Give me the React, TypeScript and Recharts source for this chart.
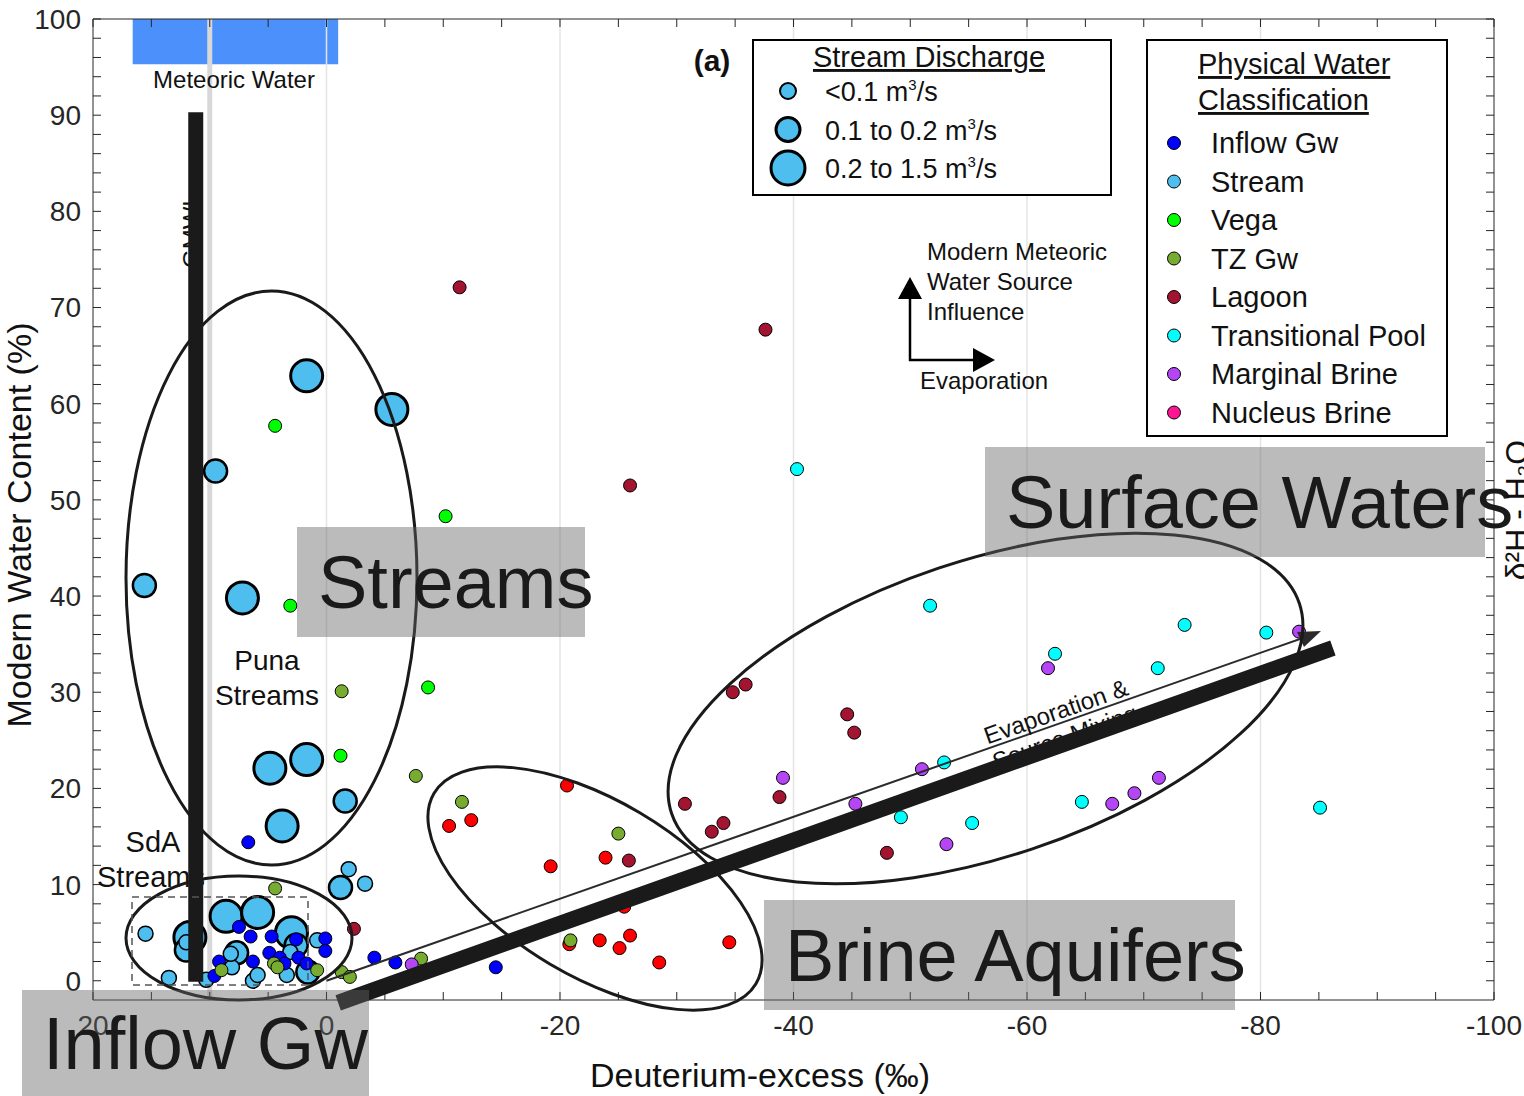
import { ScatterChart, Scatter, XAxis, YAxis, ReferenceArea, ReferenceLine } from 'recharts';

const FONT = '"Liberation Sans", Arial, Helvetica, sans-serif';
const INK = '#1a1a1a';
const AXIS = '#262626';

// deuterium-excess (‰) = d, modern water content (%) = w
const inflowGw = [
  { d: 6.7, w: 14.4 }, { d: -4.1, w: 2.4 }, { d: -5.9, w: 1.9 }, { d: -14.5, w: 1.4 },
  { d: 7.5, w: 5.6 }, { d: 6.5, w: 4.6 }, { d: 4.7, w: 4.6 }, { d: 2.6, w: 4.3 },
  { d: 0.1, w: 4.4 }, { d: 0.1, w: 3.1 }, { d: 4.9, w: 2.9 }, { d: 6.3, w: 2.0 },
  { d: 9.2, w: 2.0 }, { d: 9.6, w: 0.5 }, { d: 2.4, w: 2.4 }, { d: 1.7, w: 1.8 },
  { d: 4.0, w: 2.4 }, { d: 3.6, w: 1.8 },
];

// stream samples split by discharge class
const streamLarge = [
  { d: 1.7, w: 62.9 }, { d: -5.6, w: 59.4 }, { d: 7.2, w: 39.8 }, { d: 4.85, w: 22.1 },
  { d: 1.7, w: 23.0 }, { d: 3.8, w: 16.1 }, { d: 11.7, w: 4.5 }, { d: 8.6, w: 6.7 },
  { d: 5.9, w: 7.1 }, { d: 3.0, w: 5.0 },
];
const streamMid = [
  { d: 9.5, w: 53.0 }, { d: 15.6, w: 41.1 }, { d: -1.6, w: 18.7 }, { d: -1.2, w: 9.7 },
  { d: 12.0, w: 3.2 }, { d: 2.6, w: 3.7 }, { d: 7.7, w: 2.9 }, { d: 1.6, w: 0.9 },
];
const streamSmall = [
  { d: -1.9, w: 11.6 }, { d: -3.3, w: 10.1 }, { d: 15.5, w: 4.9 }, { d: 12.0, w: 4.0 },
  { d: 0.8, w: 4.2 }, { d: 3.1, w: 3.0 }, { d: 8.1, w: 1.4 }, { d: 6.3, w: 0.0 },
  { d: 5.9, w: 0.6 }, { d: 3.4, w: 0.6 }, { d: 10.3, w: 0.1 }, { d: 13.5, w: 0.3 },
  { d: 8.2, w: 2.8 },
];

const vega = [
  { d: 4.4, w: 57.7 }, { d: -10.2, w: 48.3 }, { d: 3.1, w: 39.0 }, { d: -8.7, w: 30.5 },
  { d: -1.2, w: 23.4 },
];

const tzGw = [
  { d: -1.3, w: 30.1 }, { d: -7.65, w: 21.3 }, { d: -11.6, w: 18.6 }, { d: -25.0, w: 15.3 },
  { d: -20.9, w: 4.2 }, { d: -8.1, w: 2.3 }, { d: 4.4, w: 9.6 }, { d: 9.0, w: 1.1 },
  { d: 4.5, w: 1.8 }, { d: 4.2, w: 1.4 }, { d: 0.8, w: 1.1 }, { d: -1.3, w: 0.9 },
  { d: -2.0, w: 0.4 },
];

const lagoon = [
  { d: -11.4, w: 72.1 }, { d: -37.6, w: 67.7 }, { d: -26.0, w: 51.5 }, { d: -34.8, w: 30.0 },
  { d: -35.9, w: 30.8 }, { d: -44.6, w: 27.7 }, { d: -45.2, w: 25.8 }, { d: -30.7, w: 18.4 },
  { d: -38.8, w: 19.1 }, { d: -34.0, w: 16.4 }, { d: -33.0, w: 15.5 }, { d: -25.9, w: 12.5 },
  { d: -48.0, w: 13.3 }, { d: -2.35, w: 5.4 },
];

const brineAquifer = [
  { d: -20.6, w: 20.3 }, { d: -10.5, w: 16.1 }, { d: -12.4, w: 16.7 }, { d: -19.2, w: 11.9 },
  { d: -23.9, w: 12.8 }, { d: -25.5, w: 7.7 }, { d: -20.8, w: 3.8 }, { d: -23.4, w: 4.2 },
  { d: -25.1, w: 3.4 }, { d: -26.0, w: 4.7 }, { d: -28.5, w: 1.9 }, { d: -34.5, w: 4.0 },
];

const transitionalPool = [
  { d: -40.3, w: 53.2 }, { d: -51.7, w: 39.0 }, { d: -62.4, w: 34.0 }, { d: -73.5, w: 37.0 },
  { d: -80.5, w: 36.2 }, { d: -71.2, w: 32.5 }, { d: -52.9, w: 22.7 }, { d: -49.2, w: 17.0 },
  { d: -55.3, w: 16.4 }, { d: -64.7, w: 18.6 }, { d: -85.1, w: 18.0 },
];

const marginalBrine = [
  { d: -83.3, w: 36.3 }, { d: -61.8, w: 32.5 }, { d: -51.0, w: 22.0 }, { d: -39.1, w: 21.1 },
  { d: -45.3, w: 18.4 }, { d: -53.1, w: 14.2 }, { d: -67.3, w: 18.4 }, { d: -69.2, w: 19.5 },
  { d: -71.3, w: 21.1 }, { d: -7.3, w: 1.7 },
];

const xTicks = [20, 15, 10, 5, 0, -5, -10, -15, -20, -25, -30, -35, -40, -45, -50, -55, -60, -65, -70, -75, -80, -85, -90, -95, -100];
const xLabelled = [20, 0, -20, -40, -60, -80, -100];
const yTicks = [0, 2, 4, 6, 8, 10, 12, 14, 16, 18, 20, 22, 24, 26, 28, 30, 32, 34, 36, 38, 40, 42, 44, 46, 48, 50, 52, 54, 56, 58, 60, 62, 64, 66, 68, 70, 72, 74, 76, 78, 80, 82, 84, 86, 88, 90, 92, 94, 96, 98, 100];
const yLabelled = [0, 10, 20, 30, 40, 50, 60, 70, 80, 90, 100];
const gridX = [0, -20, -40, -60, -80];

const dischargeLegend = [
  { label: '<0.1 m', r: 8 },
  { label: '0.1 to 0.2 m', r: 12 },
  { label: '0.2 to 1.5 m', r: 17 },
];

const classLegend = [
  { name: 'Inflow Gw', color: '#0000ff' },
  { name: 'Stream', color: '#4dbeee' },
  { name: 'Vega', color: '#00ff00' },
  { name: 'TZ Gw', color: '#77ac30' },
  { name: 'Lagoon', color: '#a2142f' },
  { name: 'Transitional Pool', color: '#00ffff' },
  { name: 'Marginal Brine', color: '#b446f5' },
  { name: 'Nucleus Brine', color: '#ff1493' },
];

// plot box, used only for the hand-drawn annotations on top
const PL = 93, PR = 1494, PT = 19, PB = 1000;
const X = (v: number) => PL + ((20 - v) / 120) * (PR - PL);
const Y = (v: number) => PB - ((v + 2) / 102) * (PB - PT);

const dot = (color: string, r: number, sw: number) => (p: any) => (
  <circle cx={p.cx} cy={p.cy} r={r} fill={color} stroke="#000" strokeWidth={sw} />
);

function GrayLabel({ x, y, w, h, text }: { x: number; y: number; w: number; h: number; text: string }) {
  return (
    <g>
      <rect x={x} y={y} width={w} height={h} fill="rgb(100,100,100)" fillOpacity={0.44} />
      <text x={x + 21} y={y + h / 2 + 26} fontSize={74} fill={INK} fontFamily={FONT}>{text}</text>
    </g>
  );
}

function Overlay() {
  const ang = -19.4;
  return (
    <svg width={1524} height={1096} style={{ position: 'absolute', left: 0, top: 0, pointerEvents: 'none' }}>
      <text x={234} y={88} textAnchor="middle" fontSize={24} fontFamily={FONT} fill="#111">Meteoric Water</text>
      <text x={712} y={71} textAnchor="middle" fontSize={30} fontWeight="bold" fontFamily={FONT} fill="#111">(a)</text>

      <text x={267} y={670} textAnchor="middle" fontSize={28} fontFamily={FONT} fill="#111">Puna</text>
      <text x={267} y={705} textAnchor="middle" fontSize={28} fontFamily={FONT} fill="#111">Streams</text>
      <text x={153} y={852} textAnchor="middle" fontSize={29} fontFamily={FONT} fill="#111">SdA</text>
      <text x={97} y={887} fontSize={29} fontFamily={FONT} fill="#111">Streams</text>
      <text transform="translate(200,268) rotate(-90)" fontSize={24} fontFamily={FONT} fill="#111">GMWL</text>

      {/* evaporation / source mixing trend */}
      <line x1={X(0)} y1={Y(0)} x2={X(-84)} y2={Y(35.8)} stroke="#2b2b2b" strokeWidth={2} />
      <polygon points="1321,631 1297,632 1304,647" fill="#2b2b2b" />
      <g transform={`translate(1056,712) rotate(${ang})`}>
        <text x={0} y={8} textAnchor="middle" fontSize={24} fontFamily={FONT} fill="#111">Evaporation &amp;</text>
        <text x={0} y={35} textAnchor="middle" fontSize={24} fontFamily={FONT} fill="#111">Source Mixing</text>
      </g>
      <line x1={X(-1.0)} y1={Y(-2.3)} x2={X(-86.2)} y2={Y(34.6)} stroke={INK} strokeWidth={16} />

      {/* GMWL bar */}
      <line x1={X(11.2)} y1={Y(-0.1)} x2={X(11.2)} y2={Y(90.3)} stroke={INK} strokeWidth={15} />

      {/* groupings */}
      <ellipse cx={271.5} cy={578} rx={145.5} ry={287} fill="none" stroke={INK} strokeWidth={3} />
      <ellipse cx={239} cy={938} rx={113} ry={62} fill="none" stroke={INK} strokeWidth={3} />
      <ellipse cx={0} cy={0} rx={187} ry={88} fill="none" stroke={INK} strokeWidth={3}
        transform="translate(595,888.5) rotate(30.6)" />
      <ellipse cx={0} cy={0} rx={331} ry={148} fill="none" stroke={INK} strokeWidth={3}
        transform="translate(985.5,708.5) rotate(-18.5)" />
      <rect x={132} y={897} width={176} height={88} fill="none" stroke="#555" strokeWidth={1.5} strokeDasharray="7 5" />

      <GrayLabel x={297} y={527} w={288} h={110} text="Streams" />
      <GrayLabel x={985} y={447} w={500} h={110} text="Surface Waters" />
      <GrayLabel x={764} y={900} w={471} h={110} text="Brine Aquifers" />
      <GrayLabel x={22} y={990} w={347} h={106} text="Inflow Gw" />

      {/* direction key */}
      <line x1={910} y1={361} x2={910} y2={296} stroke="#000" strokeWidth={2.5} />
      <polygon points="910,277 898,299 922,299" fill="#000" />
      <line x1={909} y1={360} x2={976} y2={360} stroke="#000" strokeWidth={2.5} />
      <polygon points="995,360 973,348 973,372" fill="#000" />
      <text x={927} y={260} fontSize={24} fontFamily={FONT} fill="#111">Modern Meteoric</text>
      <text x={927} y={290} fontSize={24} fontFamily={FONT} fill="#111">Water Source</text>
      <text x={927} y={320} fontSize={24} fontFamily={FONT} fill="#111">Influence</text>
      <text x={920} y={389} fontSize={24} fontFamily={FONT} fill="#111">Evaporation</text>

      {/* stream discharge legend */}
      <rect x={753} y={40} width={358} height={155} fill="#fff" stroke="#000" strokeWidth={2} />
      <text x={929} y={67} textAnchor="middle" fontSize={29} fontFamily={FONT} fill="#111" textDecoration="underline">Stream Discharge</text>
      {dischargeLegend.map((it, i) => (
        <g key={it.label}>
          <circle cx={788} cy={91 + i * 38.5} r={it.r} fill="#4dbeee" stroke="#000" strokeWidth={it.r > 9 ? 3 : 2} />
          <text x={825} y={101 + i * 38.5} fontSize={27} fontFamily={FONT} fill="#111">
            {it.label}<tspan dy={-11} fontSize={15}>3</tspan><tspan dy={11}>/s</tspan>
          </text>
        </g>
      ))}

      {/* physical water classification legend */}
      <rect x={1147} y={40} width={300} height={396} fill="#fff" stroke="#000" strokeWidth={2} />
      <text x={1198} y={74} fontSize={29} fontFamily={FONT} fill="#111" textDecoration="underline">Physical Water</text>
      <text x={1198} y={110} fontSize={29} fontFamily={FONT} fill="#111" textDecoration="underline">Classification</text>
      {classLegend.map((it, i) => (
        <g key={it.name}>
          <circle cx={1174} cy={143 + i * 38.5} r={6.5} fill={it.color} stroke="#000" strokeWidth={1} />
          <text x={1211} y={153 + i * 38.5} fontSize={29} fontFamily={FONT} fill="#111">{it.name}</text>
        </g>
      ))}

      {/* axis titles */}
      <text x={760} y={1087} textAnchor="middle" fontSize={34} fontFamily={FONT} fill="#111">Deuterium-excess (‰)</text>
      <text transform="translate(31,525) rotate(-90)" textAnchor="middle" fontSize={34} fontFamily={FONT} fill="#111">Modern Water Content (%)</text>
      <text transform="translate(1528,510) rotate(-90)" textAnchor="middle" fontSize={32} fontFamily={FONT} fill="#111">δ²H - H₂O</text>
    </svg>
  );
}

export default function App() {
  const tickStyle = { fill: AXIS, fontSize: 28, fontFamily: FONT };
  return (
    <div style={{ position: 'absolute', left: 0, top: 0, width: 1524, height: 1096, background: '#fff', overflow: 'hidden' }}>
      <ScatterChart width={1524} height={1096} margin={{ top: 18, right: 29, bottom: 0, left: 0 }}>
        <XAxis xAxisId="b" type="number" dataKey="d" domain={[-100, 20]} reversed ticks={xTicks} interval={0}
          tickFormatter={(v: number) => (xLabelled.includes(v) ? String(v) : '')}
          height={96} tickSize={-8} tickMargin={23} stroke={AXIS} tick={tickStyle} allowDataOverflow />
        <XAxis xAxisId="t" orientation="top" type="number" dataKey="d" domain={[-100, 20]} reversed ticks={xTicks} interval={0}
          tickFormatter={() => ''} height={1} tickSize={-8} stroke={AXIS} allowDataOverflow />
        <YAxis yAxisId="l" type="number" dataKey="w" domain={[-2, 100]} ticks={yTicks} interval={0}
          tickFormatter={(v: number) => (yLabelled.includes(v) ? String(v) : '')}
          width={93} tickSize={-8} tickMargin={20} stroke={AXIS} tick={tickStyle} allowDataOverflow />
        <YAxis yAxisId="r" orientation="right" type="number" dataKey="w" domain={[-2, 100]} ticks={yTicks} interval={0}
          tickFormatter={() => ''} width={1} tickSize={-8} stroke={AXIS} allowDataOverflow />

        {gridX.map((g) => (
          <ReferenceLine key={g} xAxisId="b" yAxisId="l" x={g} stroke="#e4e4e4" strokeWidth={1.5} />
        ))}
        <ReferenceLine xAxisId="b" yAxisId="l" x={10} stroke="#d8d8d8" strokeWidth={5} />
        <ReferenceArea xAxisId="b" yAxisId="l" x1={16.6} x2={-1.0} y1={95.3} y2={100} fill="#4b90fb" fillOpacity={1} stroke="none" />

        <Scatter name="Stream 0.2-1.5" data={streamLarge} xAxisId="b" yAxisId="l" isAnimationActive={false} shape={dot('#4dbeee', 16, 3)} />
        <Scatter name="Stream 0.1-0.2" data={streamMid} xAxisId="b" yAxisId="l" isAnimationActive={false} shape={dot('#4dbeee', 11.5, 2.5)} />
        <Scatter name="Stream <0.1" data={streamSmall} xAxisId="b" yAxisId="l" isAnimationActive={false} shape={dot('#4dbeee', 7.5, 1.5)} />
        <Scatter name="Inflow Gw" data={inflowGw} xAxisId="b" yAxisId="l" isAnimationActive={false} shape={dot('#0000ff', 6.5, 1)} />
        <Scatter name="Vega" data={vega} xAxisId="b" yAxisId="l" isAnimationActive={false} shape={dot('#00ff00', 6.5, 1)} />
        <Scatter name="Lagoon" data={lagoon} xAxisId="b" yAxisId="l" isAnimationActive={false} shape={dot('#a2142f', 6.5, 1)} />
        <Scatter name="Brine Aquifer" data={brineAquifer} xAxisId="b" yAxisId="l" isAnimationActive={false} shape={dot('#ff0000', 6.5, 1)} />
        <Scatter name="TZ Gw" data={tzGw} xAxisId="b" yAxisId="l" isAnimationActive={false} shape={dot('#77ac30', 6.5, 1)} />
        <Scatter name="Transitional Pool" data={transitionalPool} xAxisId="b" yAxisId="l" isAnimationActive={false} shape={dot('#00ffff', 6.5, 1)} />
        <Scatter name="Marginal Brine" data={marginalBrine} xAxisId="b" yAxisId="l" isAnimationActive={false} shape={dot('#b446f5', 6.5, 1)} />
      </ScatterChart>
      <Overlay />
    </div>
  );
}
